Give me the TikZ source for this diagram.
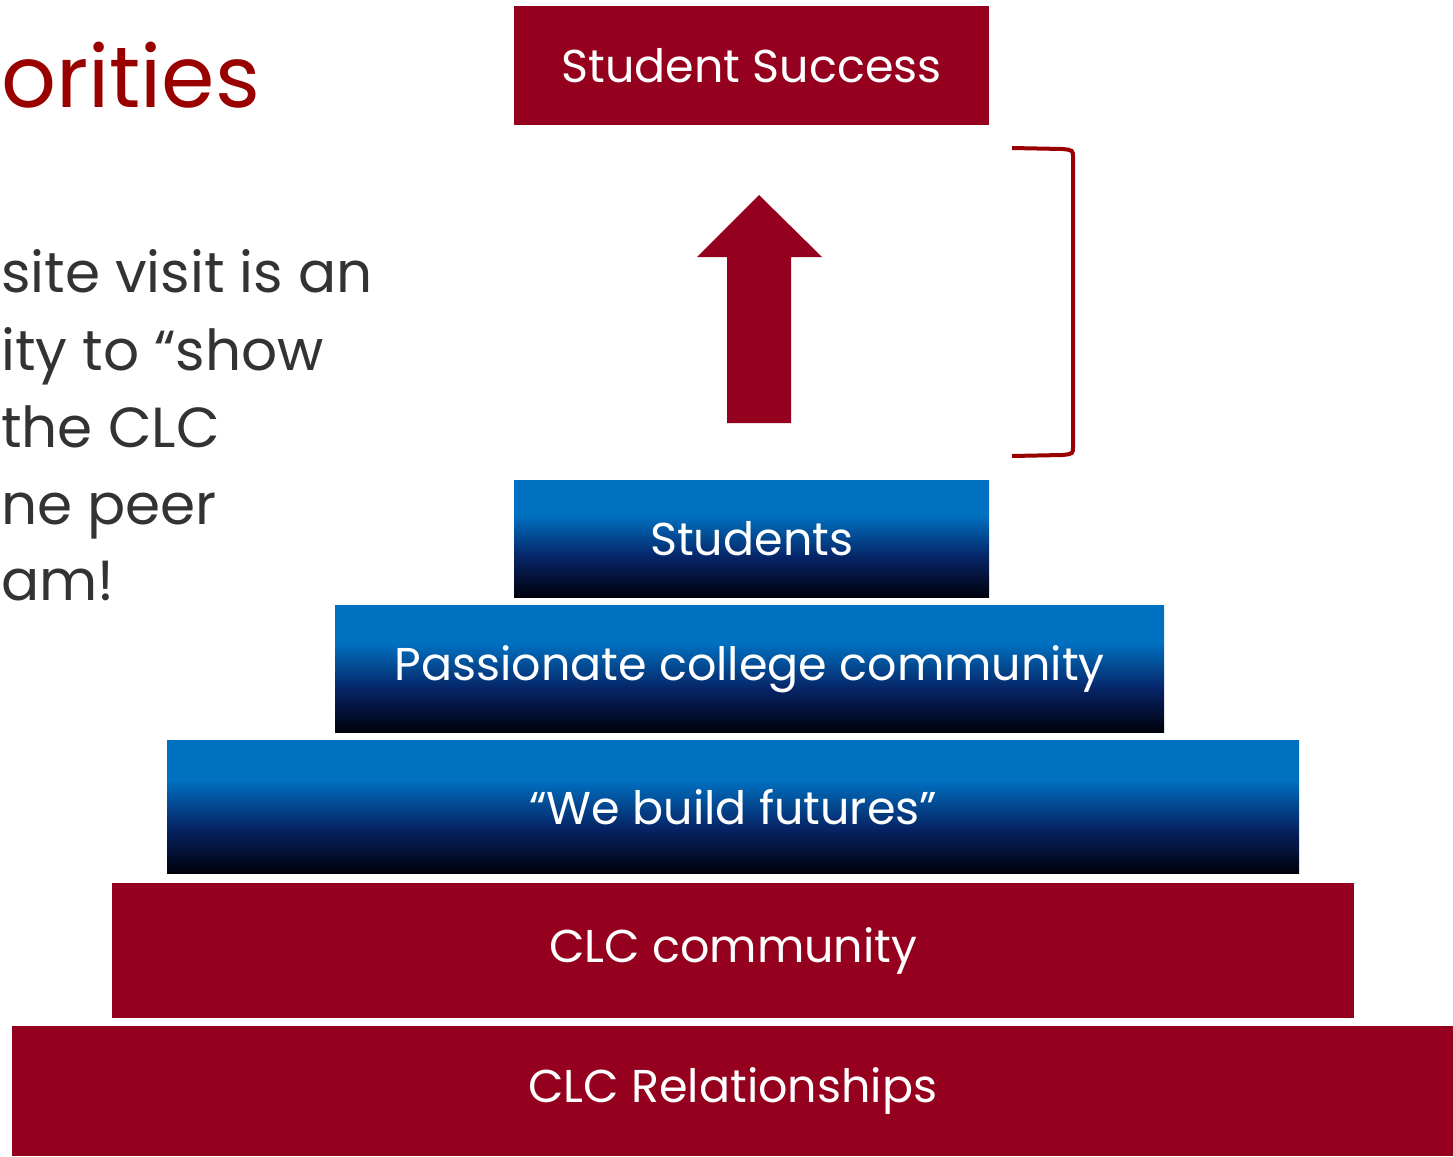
\documentclass[tikz,border=0pt]{standalone}
\usepackage{fontspec}
\setmainfont{Poppins}
\definecolor{clcred}{HTML}{95001E}
\definecolor{titlered}{HTML}{990000}
\definecolor{clcblue}{HTML}{0070C0}
\definecolor{clcnavy}{HTML}{062466}
\definecolor{clcblack}{HTML}{00000A}
\definecolor{bodygray}{HTML}{333333}
\pgfdeclareverticalshading{pyrblue}{100bp}{color(0bp)=(clcblack); color(25bp)=(clcblack); color(42bp)=(clcnavy); color(60bp)=(clcblue); color(100bp)=(clcblue)}

\begin{document}
\begin{tikzpicture}[x=1pt,y=-1pt,
  tier/.style={anchor=north west,inner sep=0pt,text=white,font=\fontsize{46}{55}\selectfont},
  redtier/.style={tier,fill=clcred},
  bluetier/.style={tier,shade,shading=pyrblue},
  bodyline/.style={anchor=base west,inner sep=0pt,text=bodygray,font=\fontsize{56.5}{77}\selectfont}]
\useasboundingbox (0,0) rectangle (1453,1156);
% left hand text
\node[anchor=base west,inner sep=0pt,text=titlered,font=\fontsize{86}{90}\selectfont] (title) at (1,107) {orities};
\node[bodyline] (l1) at (1,292) {site visit is an};
\node[bodyline] (l2) at (1,370) {ity to “show};
\node[bodyline] (l3) at (1,447) {the CLC};
\node[bodyline] (l4) at (1,524) {ne peer};
\node[bodyline] (l5) at (1,600) {am!};
% pyramid
\node[redtier,minimum width=475pt,minimum height=119pt] (succ) at (514,6) {Student Success};
\node[bluetier,minimum width=475pt,minimum height=117pt] (stud) at (514,480) {Students};
\node[bluetier,minimum width=829pt,minimum height=127pt] (pass) at (335,605) {Passionate college community};
\node[bluetier,minimum width=1132pt,minimum height=133pt] (build) at (167,740) {“We build futures”};
\node[redtier,minimum width=1242pt,minimum height=135pt] (comm) at (112,883) {CLC community};
\node[redtier,minimum width=1441pt,minimum height=130pt] (rel) at (12,1026) {CLC Relationships};
% arrow and bracket
\fill[clcred] (759,195) -- (822,257) -- (791,257) -- (791,423) -- (727,423) -- (727,257) -- (697,257) -- cycle;
\draw[titlered,line width=4pt] (1012,148) -- (1062,149) .. controls (1073,150) .. (1073,158)
  -- (1073,446) .. controls (1073,454) .. (1062,455) -- (1012,456);
\end{tikzpicture}
\end{document}
